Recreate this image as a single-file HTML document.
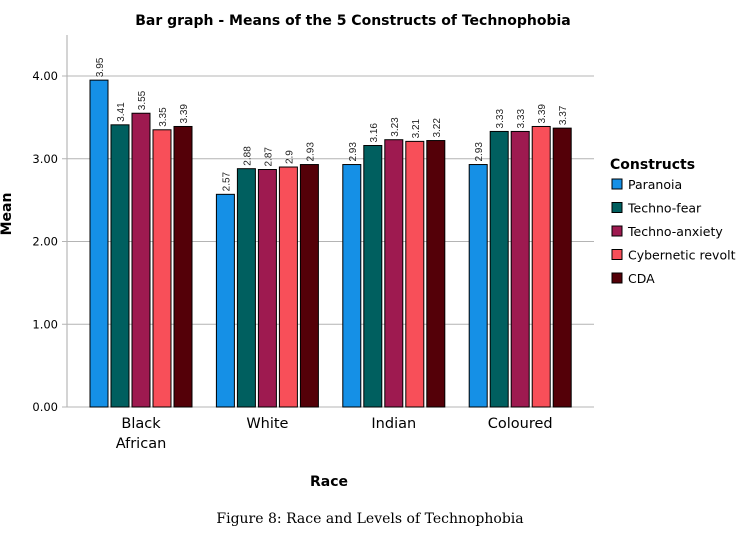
<!DOCTYPE html>
<html><head><meta charset="utf-8"><style>
body{margin:0;background:#fff;font-family:"DejaVu Sans","Liberation Sans",sans-serif}
</style></head><body>
<svg width="747" height="531" xmlns="http://www.w3.org/2000/svg" font-family="DejaVu Sans, Liberation Sans, sans-serif">
<text x="353" y="25" text-anchor="middle" font-size="14" font-weight="bold" fill="#000">Bar graph - Means of the 5 Constructs of Technophobia</text>
<g id="grid"></g>
<g id="bars"></g>
<text transform="translate(11,214) rotate(-90)" text-anchor="middle" font-size="14" font-weight="bold">Mean</text>
<text x="329" y="486" text-anchor="middle" font-size="14" font-weight="bold">Race</text>
<g id="legend"></g>
<text x="370" y="523" text-anchor="middle" font-size="14" font-family="DejaVu Serif, Liberation Serif, serif">Figure 8: Race and Levels of Technophobia</text>
</svg>
<script>
const categories=["Black African","White","Indian","Coloured"];
const series=["Paranoia","Techno-fear","Techno-anxiety","Cybernetic revolt","CDA"];
const colors=["#1590e6","#005f5f","#9e1a50","#f84f59","#540008"];
const paranoia=[3.95,2.57,2.93,2.93];
const technoFear=[3.41,2.88,3.16,3.33];
const technoAnxiety=[3.55,2.87,3.23,3.33];
const cyberneticRevolt=[3.35,2.9,3.21,3.39];
const cda=[3.39,2.93,3.22,3.37];
const yTicks=[0,1,2,3,4];
const labelsPrinted=[["3.95","2.57","2.93","2.93"],["3.41","2.88","3.16","3.33"],["3.55","2.87","3.23","3.33"],["3.35","2.9","3.21","3.39"],["3.39","2.93","3.22","3.37"]];
const values=[paranoia,technoFear,technoAnxiety,cyberneticRevolt,cda];
const NS="http://www.w3.org/2000/svg";
const X0=67,X1=594,Y0=407,Y4=76;
const y=v=>Y0-(Y0-Y4)*v/4;
const groupCenter=i=>141+i*126.4;
function mk(tag,attrs,parent,text){const e=document.createElementNS(NS,tag);for(const k in attrs)e.setAttribute(k,attrs[k]);if(text!==undefined)e.textContent=text;parent.appendChild(e);return e;}
const grid=document.getElementById('grid');
mk('line',{x1:X0,y1:35,x2:X0,y2:Y0,stroke:'#aaa'},grid);
yTicks.forEach(t=>{
 const l=mk('line',{x1:X0-5,y1:y(t),x2:X1,y2:y(t),stroke:'#b4b4b4'},grid);
 
 
 const tx=mk('text',{x:X0-9,y:y(t)+4,'text-anchor':'end','font-size':11.5},grid,t.toFixed(2));
 
 
});
const bars=document.getElementById('bars');
const bw=18,step=21;
categories.forEach((c,i)=>{
 const cx=groupCenter(i);
 const start=cx-(5*step-3)/2;
 values.forEach((arr,s)=>{
  const v=arr[i];const bx=start+s*step;
  const r=mk('rect',{x:bx,y:y(v),width:bw,height:Y0-y(v),fill:colors[s],stroke:'#000','stroke-width':1},bars);
  
  
  const lx=bx+bw/2+4,ly=y(v)-3;
  const t=mk('text',{x:lx,y:ly,'font-size':10,fill:'#222','font-family':'Liberation Sans, sans-serif',transform:`rotate(-90 ${lx} ${ly})`},bars,labelsPrinted[s][i]);
  
  
 });
 const parts=c.split(' ');
 parts.forEach((p,k)=>{
  const t=mk('text',{x:cx,y:428+k*20,'text-anchor':'middle','font-size':14.5},bars,p);
  
  
 });
});
const lg=document.getElementById('legend');
const lt=mk('text',{x:610,y:169,'font-size':14,'font-weight':'bold'},lg,'Constructs');


series.forEach((s,k)=>{
 const yy=184+k*23.5;
 const r=mk('rect',{x:612,y:yy-5,width:10,height:10,fill:colors[k],stroke:'#000'},lg);
 
 
 const t=mk('text',{x:628,y:yy+5,'font-size':12.5},lg,s);
 
 
});
</script>
</body></html>
